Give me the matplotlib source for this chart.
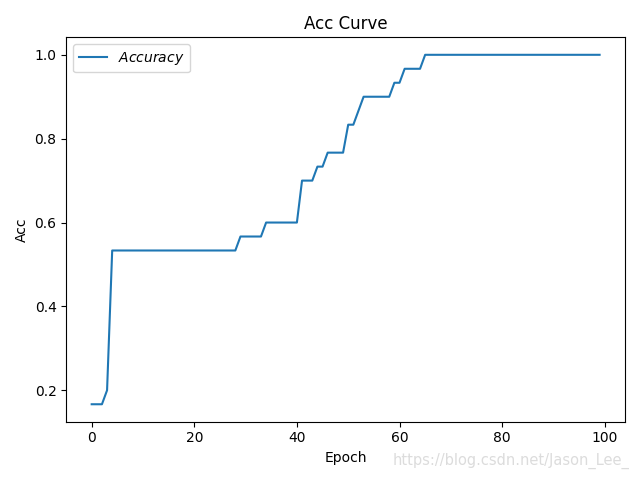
import matplotlib
matplotlib.use("Agg")
import matplotlib.pyplot as plt

epochs = list(range(100))
# accuracy values as multiples of 1/30 (numerators)
acc_num = ([5, 5, 5, 6] + [16] * 25 + [17] * 5 + [18] * 7 + [21] * 3 + [22] * 2 +
           [23] * 4 + [25] * 2 + [26] + [27] * 6 + [28] * 2 + [29] * 4 + [30] * 35)
acc = [n / 30 for n in acc_num]

fig, ax = plt.subplots(figsize=(6.4, 4.8), dpi=100)
ax.plot(epochs, acc, label="$Accuracy$")
ax.set_title("Acc Curve")
ax.set_xlabel("Epoch")
ax.set_ylabel("Acc")
ax.legend(loc="upper left")
fig.tight_layout()
fig.text(0.983, 0.022, "https://blog.csdn.net/Jason_Lee_", ha="right", va="bottom",
         color="#dcdcdc", fontsize=10.5)
fig.savefig("out.png")
